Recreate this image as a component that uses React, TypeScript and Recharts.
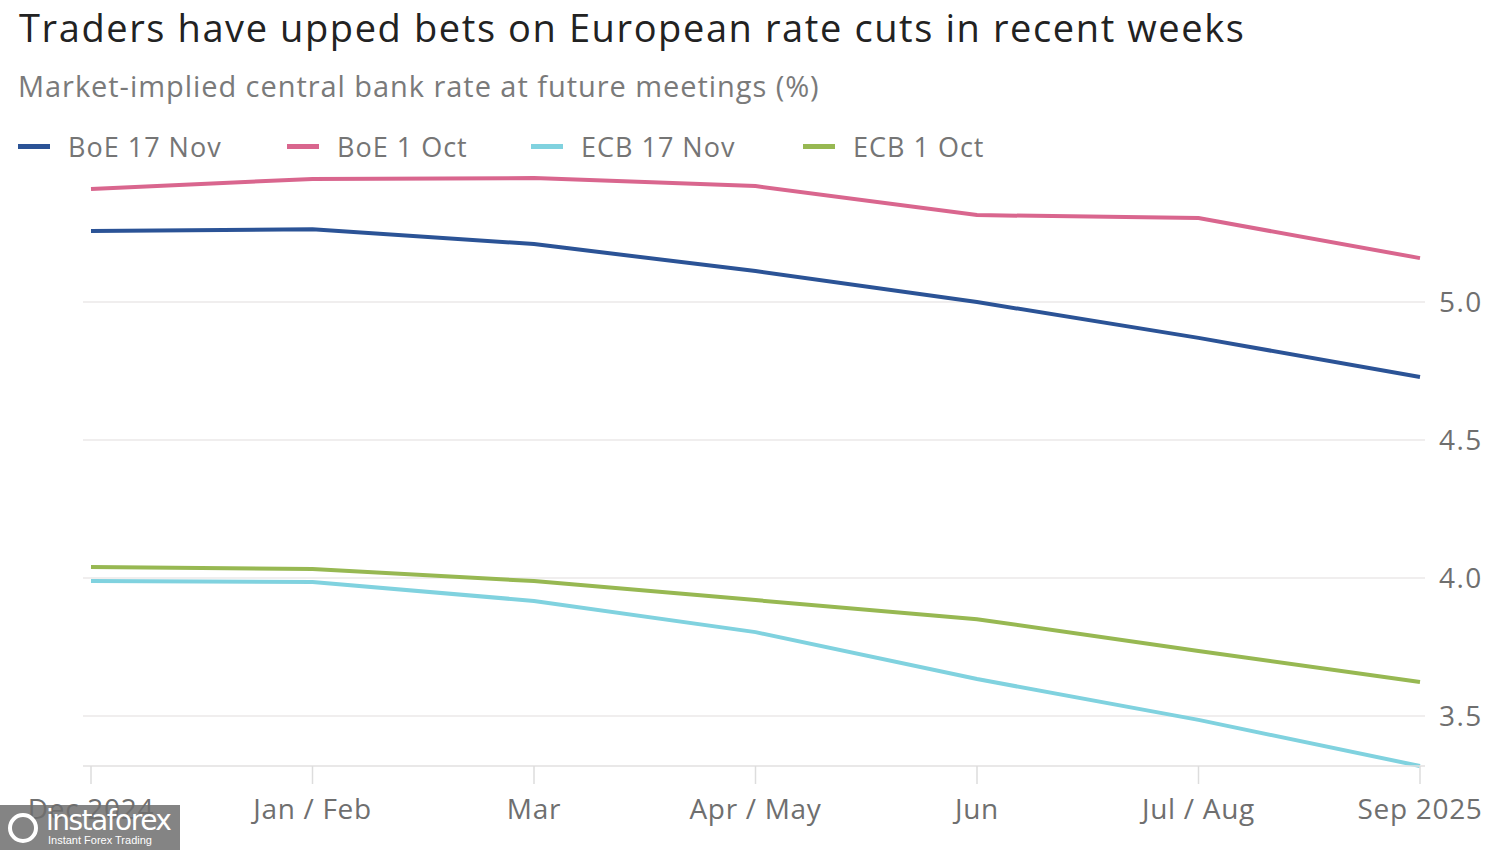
import React from "react";
import { LineChart, Line, XAxis, YAxis, CartesianGrid, Legend } from "recharts";

const categories = ["Dec 2024", "Jan / Feb", "Mar", "Apr / May", "Jun", "Jul / Aug", "Sep 2025"];
const boe17Nov = [5.257, 5.264, 5.21, 5.112, 5.0, 4.87, 4.728];
const boe1Oct = [5.409, 5.446, 5.449, 5.42, 5.315, 5.304, 5.159];
const ecb17Nov = [3.989, 3.986, 3.917, 3.804, 3.634, 3.486, 3.319];
const ecb1Oct = [4.04, 4.033, 3.989, 3.92, 3.851, 3.736, 3.623];
const yTicks = [3.5, 4.0, 4.5, 5.0];

const series = [
  { key: "boe17", name: "BoE 17 Nov", color: "#2b5396", values: boe17Nov },
  { key: "boe1", name: "BoE 1 Oct", color: "#d9668e", values: boe1Oct },
  { key: "ecb17", name: "ECB 17 Nov", color: "#80d2df", values: ecb17Nov },
  { key: "ecb1", name: "ECB 1 Oct", color: "#97b852", values: ecb1Oct },
];

const data = categories.map((c, i) => {
  const row: Record<string, string | number> = { cat: c };
  series.forEach((s) => {
    row[s.key] = s.values[i];
  });
  return row;
});

const FONT = "'Open Sans', 'DejaVu Sans', sans-serif";
const legendX = [18, 287, 531, 803];

const LegendContent = () => (
  <div style={{ position: "relative", height: 40, width: 1100 }}>
    {series.map((s, i) => (
      <div
        key={s.key}
        style={{
          position: "absolute",
          left: legendX[i],
          top: 0,
          display: "flex",
          alignItems: "center",
          height: 40,
        }}
      >
        <div style={{ width: 32, height: 5, background: s.color, marginRight: 18 }} />
        <span style={{ fontFamily: FONT, fontSize: 27, letterSpacing: 1, color: "#757575" }}>{s.name}</span>
      </div>
    ))}
  </div>
);

export default function App() {
  return (
    <div
      style={{
        position: "absolute",
        left: 0,
        top: 0,
        width: 1500,
        height: 850,
        background: "#ffffff",
        overflow: "hidden",
        fontFamily: FONT,
      }}
    >
      <div
        style={{
          position: "absolute",
          left: 19,
          top: 1,
          fontSize: 38,
          color: "#222",
          whiteSpace: "nowrap",
          letterSpacing: 1.6,
        }}
      >
        Traders have upped bets on European rate cuts in recent weeks
      </div>
      <div
        style={{
          position: "absolute",
          left: 18,
          top: 66,
          fontSize: 29,
          color: "#7a7a7a",
          whiteSpace: "nowrap",
          letterSpacing: 0.95,
        }}
      >
        Market-implied central bank rate at future meetings (%)
      </div>
      <LineChart
        width={1500}
        height={850}
        data={data}
        margin={{ top: 124, right: 0, bottom: 54, left: 83 }}
        style={{ position: "absolute", left: 0, top: 0 }}
      >
        <CartesianGrid vertical={false} horizontalValues={yTicks} stroke="#ebe8e8" strokeWidth={1.5} />
        <XAxis
          dataKey="cat"
          scale="point"
          padding={{ left: 8, right: 5 }}
          tickSize={18}
          tickMargin={15}
          axisLine={{ stroke: "#e2e0e0", strokeWidth: 1.5 }}
          tickLine={{ stroke: "#dddddd", strokeWidth: 1.5 }}
          tick={{ fontSize: 28, fill: "#6f6f6f", fontFamily: FONT, letterSpacing: 0.7 }}
          interval={0}
        />
        <YAxis
          orientation="right"
          domain={[3.32, 5.5]}
          ticks={yTicks}
          tickFormatter={(v: number) => v.toFixed(1)}
          axisLine={false}
          tickLine={false}
          tickSize={0}
          tickMargin={14}
          tick={{ fontSize: 28, fill: "#6f6f6f", fontFamily: FONT, letterSpacing: 1.5 }}
          width={75}
        />
        <Legend
          verticalAlign="top"
          align="left"
          content={<LegendContent />}
          wrapperStyle={{ top: 126, left: 0 }}
        />
        {series.map((s) => (
          <Line
            key={s.key}
            type="linear"
            dataKey={s.key}
            name={s.name}
            stroke={s.color}
            strokeWidth={4}
            dot={false}
            activeDot={false}
            isAnimationActive={false}
          />
        ))}
      </LineChart>
      <div
        style={{
          position: "absolute",
          left: 0,
          top: 805,
          width: 180,
          height: 45,
          background: "rgba(110,110,110,0.85)",
          color: "#fff",
        }}
      >
        <div
          style={{
            position: "absolute",
            left: 8,
            top: 8,
            width: 30,
            height: 30,
            borderRadius: 15,
            border: "4px solid #fff",
            boxSizing: "border-box",
          }}
        />
        <div style={{ position: "absolute", left: 46, top: -1, fontSize: 28, fontFamily: "'DejaVu Sans', sans-serif", letterSpacing: -1.5 }}>
          instaforex
        </div>
        <div style={{ position: "absolute", left: 48, top: 29, fontSize: 11, fontFamily: "'Liberation Sans', sans-serif" }}>
          Instant Forex Trading
        </div>
      </div>
    </div>
  );
}
